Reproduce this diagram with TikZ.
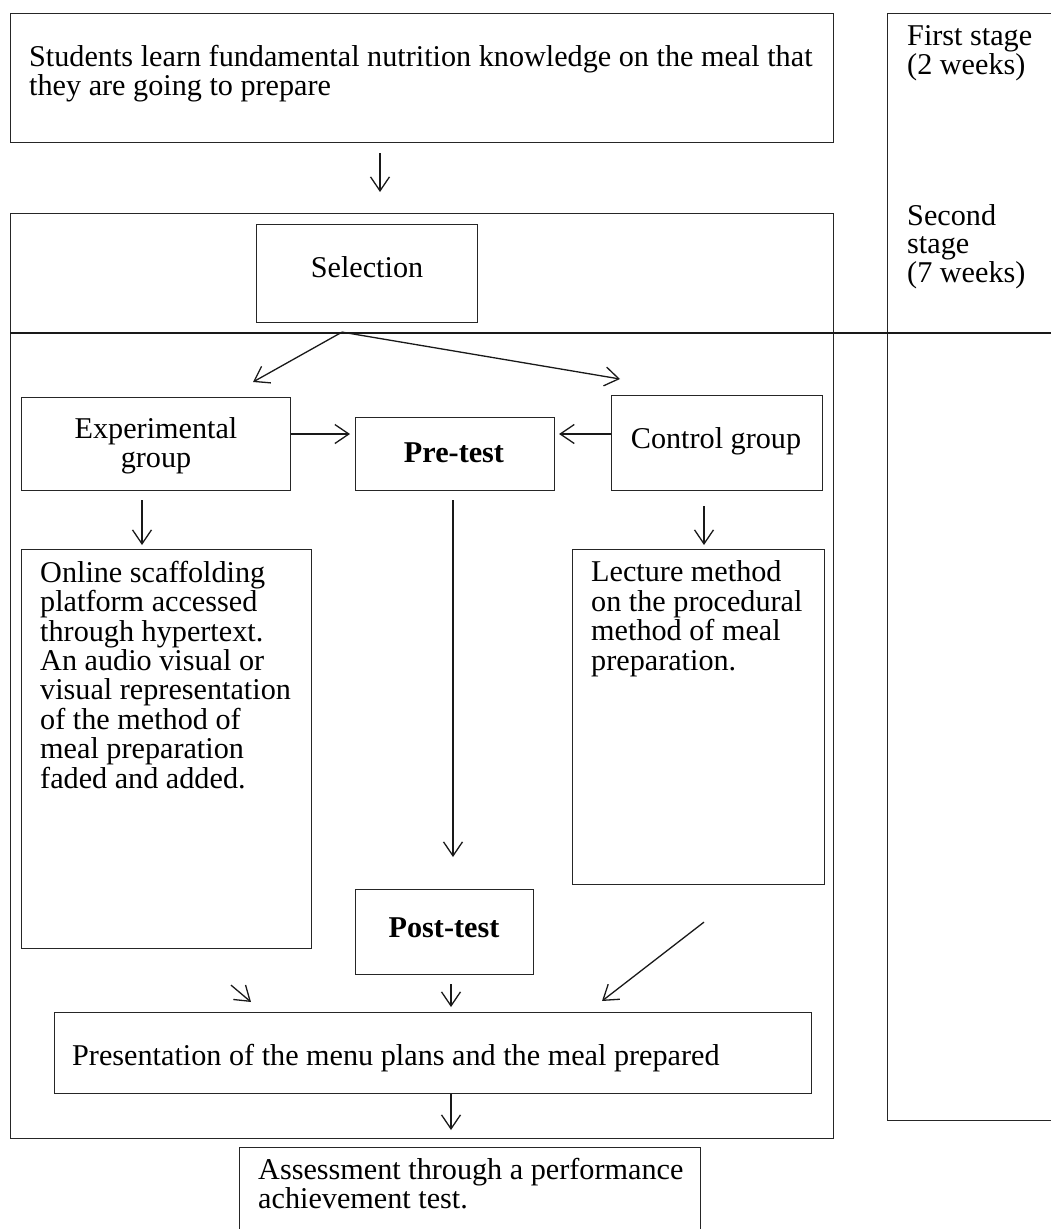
\documentclass[tikz,border=0pt]{standalone}
\usepackage{fontspec}
\setmainfont{Liberation Serif}
\usetikzlibrary{arrows.meta}
\begin{document}
\begin{tikzpicture}[x=1pt,y=-1pt,
  box/.style={draw=black!85, line width=1.1pt, rectangle, inner sep=0pt, anchor=north west},
  txt/.style={inner sep=0pt, font=\fontsize{30.2}{28.3}\selectfont},
  loose/.style={font=\fontsize{30.2}{29.4}\selectfont},
  arr/.style={draw=black!90, line width=1.3pt, -{Straight Barb[length=14pt,width=19pt]}},
  ]
\useasboundingbox (0,0) rectangle (1051,1229);
\clip (0,0) rectangle (1051,1229);

% boxes
\node[box, minimum width=823pt, minimum height=129pt] (top) at (10,13) {};
\node[box, minimum width=823pt, minimum height=925pt] (big) at (10,213) {};
\node[box, minimum width=300pt, minimum height=1107pt] (stage) at (887,13) {};
\node[box, minimum width=221pt, minimum height=98pt] (sel) at (256,224) {};
\node[box, minimum width=269pt, minimum height=93pt] (exp) at (21,397) {};
\node[box, minimum width=199pt, minimum height=73pt] (pre) at (355,417) {};
\node[box, minimum width=211pt, minimum height=95pt] (ctrl) at (611,395) {};
\node[box, minimum width=290pt, minimum height=399pt] (online) at (21,549) {};
\node[box, minimum width=252pt, minimum height=335pt] (lecture) at (572,549) {};
\node[box, minimum width=178pt, minimum height=85pt] (post) at (355,889) {};
\node[box, minimum width=757pt, minimum height=81pt] (pres) at (54,1012) {};
\node[box, minimum width=461pt, minimum height=120pt] (assess) at (239,1147) {};

% texts (multi-line nodes: base = baseline of the last line)
\node[txt, anchor=base west, align=left] (ttop) at (29,95) {Students learn fundamental nutrition knowledge on the meal that\\they are going to prepare};
\node[txt, anchor=base west, align=left] (tfirst) at (907,74) {First stage\\(2 weeks)};
\node[txt, anchor=base west, align=left] (tsecond) at (907,282) {Second\\stage\\(7 weeks)};
\node[txt, anchor=base] (tsel) at (367,277) {Selection};
\node[txt, anchor=base, align=center] (texp) at (156,467) {Experimental\\group};
\node[txt, anchor=base] (tpre) at (454,462) {\bfseries Pre-test};
\node[txt, anchor=base] (tctrl) at (716,448) {Control group};
\node[txt, loose, anchor=base west, align=left] (tonline) at (40,788) {Online scaffolding\\platform accessed\\through hypertext.\\An audio visual or\\visual representation\\of the method of\\meal preparation\\faded and added.};
\node[txt, loose, anchor=base west, align=left] (tlecture) at (591,670) {Lecture method\\on the procedural\\method of meal\\preparation.};
\node[txt, anchor=base] (tpost) at (444,937) {\bfseries Post-test};
\node[txt, anchor=base west] (tpres) at (72,1065) {Presentation of the menu plans and the meal prepared};
\node[txt, anchor=base west, align=left] (tassess) at (258,1208) {Assessment through a performance\\achievement test.};

% divider
\draw[black!90, line width=1.3pt] ([shift={(0,120)}]big.north west) -- ([shift={(0,320)}]stage.north east);

% arrows
\draw[arr] ([shift={(370,10)}]top.south west) -- ([shift={(370,-21)}]big.north west);
\draw[arr] ([shift={(86,9)}]sel.south west) -- ([shift={(232,-15)}]exp.north west);
\draw[arr] ([shift={(86,9)}]sel.south west) -- ([shift={(9,-16)}]ctrl.north west);
\draw[arr] ([shift={(0,37)}]exp.north east) -- ([shift={(-5,17)}]pre.north west);
\draw[arr] ([shift={(0,39)}]ctrl.north west) -- ([shift={(4,17)}]pre.north east);
\draw[arr] ([shift={(121,9)}]exp.south west) -- ([shift={(121,-4)}]online.north west);
\draw[arr] ([shift={(98,9)}]pre.south west) -- ([shift={(98,-32)}]post.north west);
\draw[arr] ([shift={(93,15)}]ctrl.south west) -- ([shift={(132,-4)}]lecture.north west);
\draw[arr] ([shift={(210,36)}]online.south west) -- ([shift={(197,-10)}]pres.north west);
\draw[arr] ([shift={(96,9)}]post.south west) -- ([shift={(397,-5)}]pres.north west);
\draw[arr] ([shift={(132,37)}]lecture.south west) -- ([shift={(548,-11)}]pres.north west);
\draw[arr] ([shift={(397,0)}]pres.south west) -- ([shift={(212,-17)}]assess.north west);
\end{tikzpicture}
\end{document}
